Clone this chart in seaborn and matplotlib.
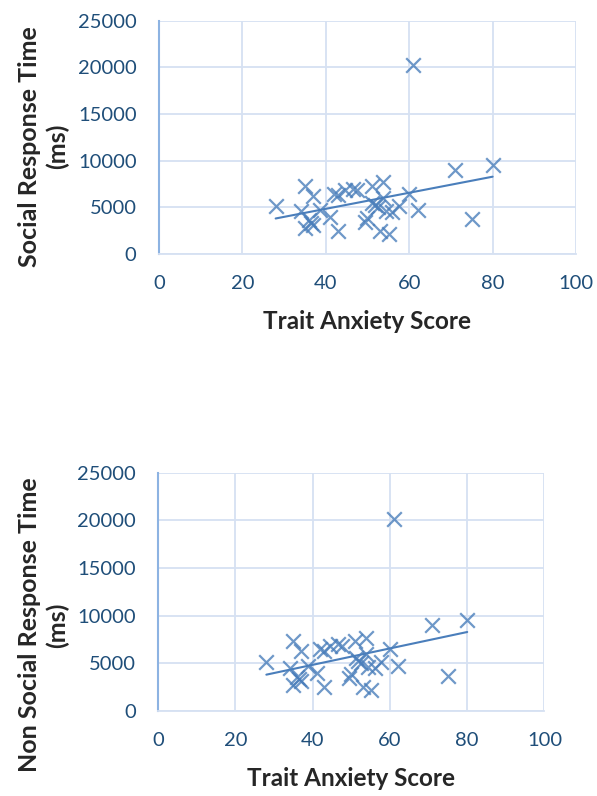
import numpy as np
import pandas as pd
import matplotlib
matplotlib.use("Agg")
import matplotlib.pyplot as plt
import seaborn as sns

# Trait anxiety score vs response time (ms)
anxiety = [28, 34, 35, 35, 36, 37, 37, 36.5, 38.7, 41,
           42, 43, 43, 44.6, 46.5, 47.5, 49.3, 50, 51, 51.2,
           51.8, 52.5, 53, 53.7, 53.7, 54.4, 55.2, 56, 57.6, 60,
           62, 61, 71, 75, 80]
response = [5150, 4550, 7300, 2750, 3600, 6250, 3100, 3300, 4700, 4000,
            6450, 6300, 2500, 6800, 7000, 6800, 3400, 3900, 7300, 5500,
            5200, 5000, 2500, 7700, 6000, 4600, 2150, 4500, 5150, 6450,
            4700, 20200, 9000, 3700, 9500]

x_ticks = [0, 20, 40, 60, 80, 100]
y_ticks = [0, 5000, 10000, 15000, 20000, 25000]
y_labels = ["Social Response Time\n(ms)", "Non Social Response Time\n(ms)"]
x_label = "Trait Anxiety Score"

df = pd.DataFrame({"anxiety": anxiety, "response": response})

sns.set_style("white")
plt.rcParams['font.family'] = ['Lato', 'DejaVu Sans']

blue = "#4a7ebb"
grid_col = "#d6e1f2"
axis_col = "#8db3e2"
tick_col = "#1f4e79"

fig = plt.figure(figsize=(5.97, 7.96), dpi=100)
positions = [[0.266, 0.681, 0.699, 0.293],
             [0.265, 0.107, 0.647, 0.299]]
# where the y label sits (axes fraction), Excel puts it a bit low
label_xy = [(-0.215, 0.46), (-0.23, 0.36)]

for pos, ylab, lxy in zip(positions, y_labels, label_xy):
    ax = fig.add_axes(pos)
    sns.regplot(x="anxiety", y="response", data=df, ax=ax, ci=None,
                marker="x", color=blue,
                scatter_kws={"s": 110, "linewidths": 1.6},
                line_kws={"linewidth": 1.5})
    ax.set_xlim(0, 100)
    ax.set_ylim(0, 25000)
    ax.set_xticks(x_ticks)
    ax.set_yticks(y_ticks)
    ax.grid(True, color=grid_col, linewidth=1.3)
    ax.set_axisbelow(True)
    for s in ["top", "right"]:
        ax.spines[s].set_visible(False)
    ax.spines["left"].set_color(axis_col)
    ax.spines["left"].set_linewidth(1.5)
    ax.spines["bottom"].set_color(grid_col)
    ax.spines["bottom"].set_linewidth(1.3)
    ax.tick_params(axis="both", length=0, labelsize=14.5, labelcolor=tick_col)
    ax.tick_params(axis="y", pad=16)
    ax.tick_params(axis="x", pad=15)
    ax.set_xlabel(x_label, fontsize=17.5, fontweight="bold", labelpad=13)
    ax.set_ylabel(ylab, fontsize=18, fontweight="bold", linespacing=1.25)
    ax.yaxis.set_label_coords(*lxy)

fig.savefig("out.png", dpi=100)
